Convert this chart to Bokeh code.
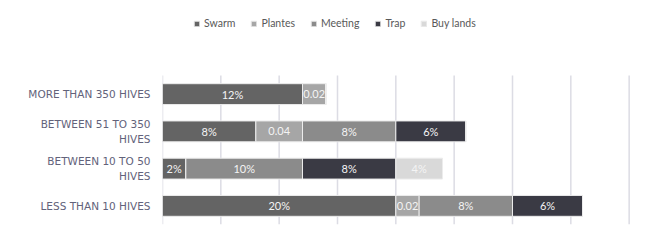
import numpy as np
from bokeh.plotting import figure
from bokeh.models import ColumnDataSource, Range1d, FixedTicker, Legend, LegendItem
from bokeh.embed import file_html
from bokeh.resources import INLINE

# ---- data (bottom to top) ----
categories = ["LESS THAN 10 HIVES", "BETWEEN 10 TO 50\nHIVES", "BETWEEN 51 TO 350\nHIVES", "MORE THAN 350 HIVES"]
series = ["Swarm", "Plantes", "Meeting", "Trap", "Buy lands"]
swarm = [0.20, 0.02, 0.08, 0.12]
plantes = [0.02, 0.00, 0.04, 0.02]
meeting = [0.08, 0.10, 0.08, 0.00]
trap = [0.06, 0.08, 0.06, 0.00]
buy_lands = [0.00, 0.04, 0.00, 0.00]
swarm_labels = ["20%", "2%", "8%", "12%"]
plantes_labels = ["0.02", "", "0.04", "0.02"]
meeting_labels = ["8%", "10%", "8%", ""]
trap_labels = ["6%", "8%", "6%", ""]
buy_labels = ["", "4%", "", ""]
x_ticks = [0, 0.05, 0.10, 0.15, 0.20, 0.25, 0.30, 0.35, 0.40]

colors = ["#646464", "#a6a6a6", "#8b8b8b", "#3a3a44", "#d9d9d9"]
label_color = "#f4f4f4"

ypos = list(range(len(categories)))
data = {"y": ypos, "Swarm": swarm, "Plantes": plantes, "Meeting": meeting,
        "Trap": trap, "Buy lands": buy_lands}
src = ColumnDataSource(data)

px_per_cat = 149 / 4.0
p = figure(width=647, height=237, output_backend="svg", toolbar_location=None,
           y_range=Range1d(-0.5, len(categories) - 0.5 + 75 / px_per_cat), x_range=Range1d(0, 0.402),
           min_border_left=162, min_border_right=16, min_border_top=0, min_border_bottom=13)
p.outline_line_color = None
p.background_fill_color = "white"
p.border_fill_color = "white"
p.xgrid.grid_line_color = None
p.ygrid.grid_line_color = None
p.xaxis.visible = False

# vertical gridlines over the category area only
p.segment(x0=x_ticks, x1=x_ticks, y0=[-0.5] * len(x_ticks), y1=[len(categories) - 0.5] * len(x_ticks),
          line_color="#dcdce4", line_width=1.5)

renderers = p.hbar_stack(series, y="y", height=0.56, color=colors, source=src,
                         line_color="#ececec", line_width=1)

# data labels
vals = [swarm, plantes, meeting, trap, buy_lands]
labs = [swarm_labels, plantes_labels, meeting_labels, trap_labels, buy_labels]
cum = np.zeros(len(categories))
for v, lab in zip(vals, labs):
    v = np.array(v)
    mid = cum + v / 2
    cum = cum + v
    lsrc = ColumnDataSource({"x": mid, "y": ypos, "t": lab})
    p.text(x="x", y="y", text="t", source=lsrc, text_align="center", text_baseline="middle",
           text_color=label_color, text_font_size="11px", text_font={"value": "Lato"})

ax = p.yaxis[0]
ax.ticker = FixedTicker(ticks=ypos)
ax.major_label_overrides = {i: c for i, c in zip(ypos, categories)}
ax.axis_line_color = None
ax.major_tick_line_color = None
ax.minor_tick_line_color = None
ax.major_tick_out = 0
ax.major_label_standoff = 12
ax.major_label_text_font = "DejaVu Sans"
ax.major_label_text_font_size = "10.5px"
ax.major_label_text_color = "#62627a"

items = [LegendItem(label=s, renderers=[r]) for s, r in zip(series, renderers)]
leg = Legend(items=items, orientation="horizontal", location=(31, 195),
             glyph_width=7, glyph_height=7, label_height=10, label_standoff=4, spacing=15,
             padding=0, margin=0, border_line_color=None, background_fill_alpha=0,
             label_text_font="Lato", label_text_font_size="10.5px", label_text_color="#595959")
p.add_layout(leg, "center")

open("out.html", "w").write(file_html(p, INLINE))
